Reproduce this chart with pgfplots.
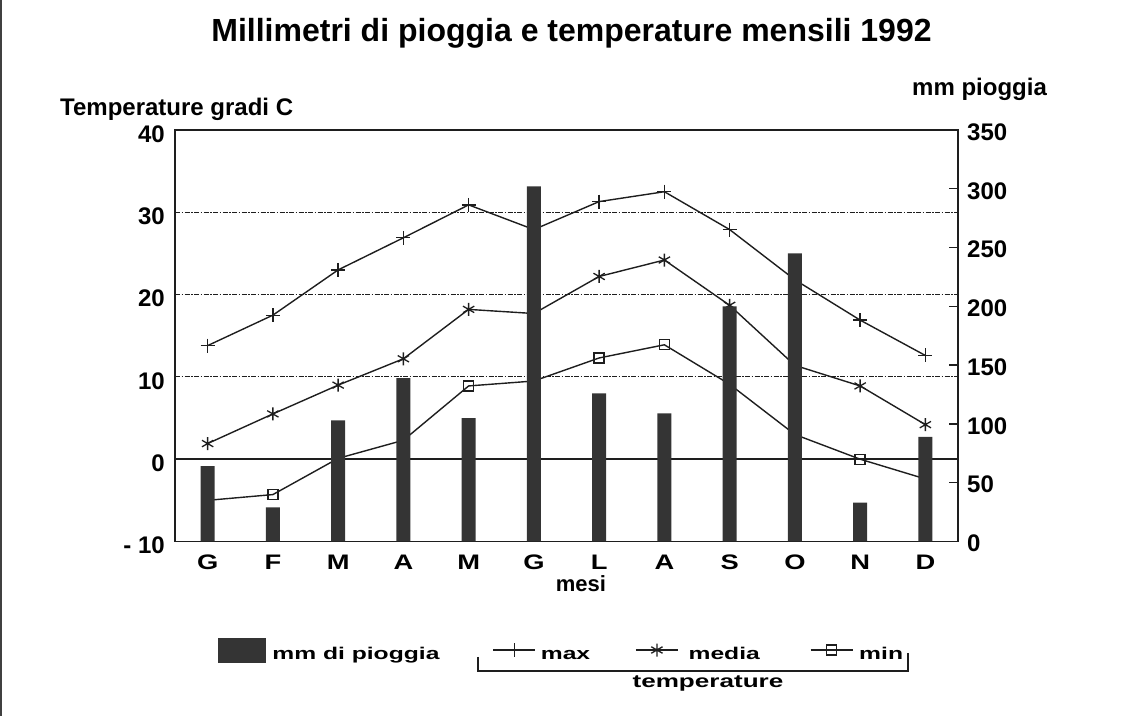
\documentclass[border=0pt]{standalone}
\usepackage{fontspec}
\setmainfont{Liberation Sans}
\newfontfamily\wide{Liberation Sans}[FakeStretch=1.45]
\newfontfamily\mwide{Liberation Sans}[FakeStretch=1.3]
\usepackage{pgfplots}
\pgfplotsset{compat=1.18}
\definecolor{barc}{RGB}{52,52,52}
\definecolor{linec}{RGB}{30,30,30}
\pgfplotsset{mylegline/.style={legend image code/.code={\draw[mark repeat=2,mark phase=2,##1] plot coordinates {(0bp,0bp) (21bp,0bp) (42bp,0bp)};}},
  mylegbar/.style={legend image code/.code={\fill[barc] (0bp,-12bp) rectangle (47bp,12bp);}}}
\begin{document}
\begin{tikzpicture}[x=1bp,y=1bp]
\useasboundingbox (0,0) rectangle (1144,716);
\draw[line width=2bp, black!75] (1,0) -- (1,716);
\begin{axis}[at={(175bp,174.5bp)}, anchor=south west, width=783bp, height=411.5bp, scale only axis,
  xmin=-0.5, xmax=11.5, ymin=-10, ymax=40,
  xtick={0,...,11}, xticklabels={G,F,M,A,M,G,L,A,S,O,N,D},
  ytick={-10,0,10,20,30,40}, yticklabels={- 10,0,10,20,30,40},
  major tick length=0pt,
  axis line style={line width=1.5bp, draw=linec},
  ymajorgrids, grid style={line width=1.2bp, draw=linec, dash pattern=on 5bp off 1.5bp on 1.5bp off 1.5bp},
  extra y ticks={0}, extra y tick labels={}, extra y tick style={grid style={solid, line width=1.4bp, draw=linec}},
  xticklabel style={font=\mwide\bfseries\fontsize{21bp}{21bp}\selectfont, anchor=base, yshift=-28.5bp, inner sep=0pt},
  yticklabel style={font=\bfseries\fontsize{24bp}{24bp}\selectfont, anchor=east, inner sep=0pt, xshift=-10bp, yshift=-4bp},
  legend columns=4,
  legend style={at={(0.0549,-0.2637)}, anchor=west, draw=none, fill=none, inner sep=0pt, outer sep=0pt,
    font=\wide\bfseries\fontsize{17bp}{17bp}\selectfont, nodes={inner sep=0pt, text height=18bp, text depth=0pt},
    /tikz/column 1/.style={column sep=7bp},
    /tikz/column 2/.style={column sep=53bp},
    /tikz/column 3/.style={column sep=5bp},
    /tikz/column 4/.style={column sep=45bp},
    /tikz/column 5/.style={column sep=10bp},
    /tikz/column 6/.style={column sep=50bp},
    /tikz/column 7/.style={column sep=6bp}},
]
\addlegendimage{mylegbar}
\addplot[linec, line width=1.4bp, mark=+, mark size=7bp, mark options={line width=1.3bp}, mylegline]
  coordinates {(0,13.8) (1,17.5) (2,23.0) (3,26.9) (4,30.9) (5,27.9) (6,31.3) (7,32.5) (8,27.9) (9,21.8) (10,16.9) (11,12.6)};
\addplot[linec, line width=1.4bp, mark=asterisk, mark size=6.5bp, mark options={line width=1.3bp}, mylegline]
  coordinates {(0,1.9) (1,5.5) (2,9.0) (3,12.2) (4,18.2) (5,17.7) (6,22.2) (7,24.2) (8,18.7) (9,11.4) (10,8.9) (11,4.2)};
\addplot[linec, line width=1.4bp, mark=square, mark size=5bp, mark options={line width=1.3bp, fill=white}, mylegline]
  coordinates {(0,-5.0) (1,-4.3) (2,0.1) (3,2.3) (4,8.9) (5,9.5) (6,12.3) (7,13.9) (8,9.1) (9,3.0) (10,0.0) (11,-2.4)};
\legend{mm di pioggia, max, media, min}
\end{axis}
\begin{axis}[at={(175bp,174.5bp)}, anchor=south west, width=783bp, height=411.5bp, scale only axis,
  xmin=-0.5, xmax=11.5, ymin=0, ymax=350,
  axis y line*=right, axis x line=none,
  ytick={0,50,...,350}, yticklabels={0,50,100,150,200,250,300,350},
  tick align=inside, major tick length=9bp,
  tick style={line width=1.4bp, draw=linec},
  axis line style={line width=1.5bp, draw=linec},
  yticklabel style={font=\bfseries\fontsize{24bp}{24bp}\selectfont, anchor=west, inner sep=0pt, xshift=9bp, yshift=-2bp},
]
\addplot[ybar, bar width=14bp, fill=barc, draw=none]
  coordinates {(0,64) (1,29) (2,103) (3,139) (4,105) (5,302) (6,126) (7,109) (8,200) (9,245) (10,33) (11,89)};
\end{axis}
\node[anchor=base, inner sep=0pt, font=\bfseries\fontsize{32bp}{32bp}\selectfont] at (571.5,674.5) {Millimetri di pioggia e temperature mensili 1992};
\node[anchor=base west, inner sep=0pt, font=\bfseries\fontsize{24bp}{24bp}\selectfont] at (60,600) {Temperature gradi C};
\node[anchor=base west, inner sep=0pt, font=\bfseries\fontsize{24bp}{24bp}\selectfont] at (912,620) {mm pioggia};
\node[anchor=base, inner sep=0pt, font=\bfseries\fontsize{22bp}{22bp}\selectfont] at (581,124) {mesi};
\draw[linec, line width=1.4bp] (478,59) -- (478,45) -- (908,45) -- (908,63);
\node[anchor=base, inner sep=0pt, font=\wide\bfseries\fontsize{18bp}{18bp}\selectfont] at (708,28) {temperature};
\end{tikzpicture}
\end{document}
